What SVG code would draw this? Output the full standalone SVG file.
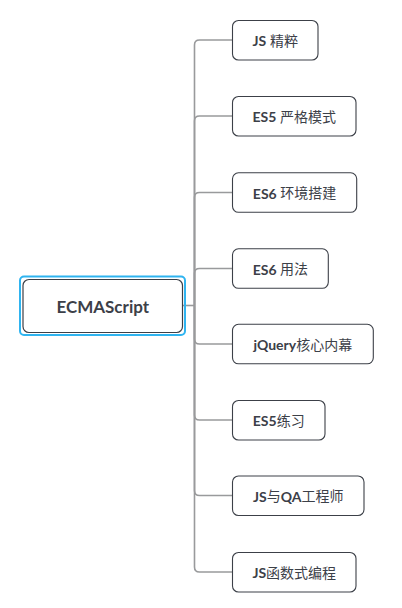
<svg xmlns="http://www.w3.org/2000/svg" width="402" height="608" viewBox="0 0 402 608">
<style>
.conn{fill:none;stroke:#999a9c;stroke-width:1.6}
.box{fill:#ffffff;stroke:#3c4048;stroke-width:1.1}
.t{font-family:"Lato","Noto Sans CJK SC",sans-serif;font-size:14px;fill:#3c4048;text-anchor:middle;dominant-baseline:central}
.b{font-weight:bold}
.root{font-family:"Lato","Noto Sans CJK SC",sans-serif;font-size:17px;font-weight:bold;fill:#3c4048;text-anchor:middle;dominant-baseline:central}
</style>
<rect width="402" height="608" fill="#ffffff"/>
<g id="connectors">
<path class="conn" d="M183,305.5 H194.5"/>
<path class="conn" d="M194.5,305.5 V45 Q194.5,40 199.5,40 H232"/>
<path class="conn" d="M194.5,305.5 V121 Q194.5,116 199.5,116 H232"/>
<path class="conn" d="M194.5,305.5 V197.5 Q194.5,192.5 199.5,192.5 H232"/>
<path class="conn" d="M194.5,305.5 V273.5 Q194.5,268.5 199.5,268.5 H232"/>
<path class="conn" d="M194.5,305.5 V339 Q194.5,344 199.5,344 H232"/>
<path class="conn" d="M194.5,305.5 V415 Q194.5,420 199.5,420 H232"/>
<path class="conn" d="M194.5,305.5 V490.5 Q194.5,495.5 199.5,495.5 H232"/>
<path class="conn" d="M194.5,305.5 V567 Q194.5,572 199.5,572 H232"/>
</g>
<g id="root">
<rect x="20" y="276.5" width="165" height="58.5" rx="4" fill="none" stroke="#2fb4f0" stroke-width="2"/>
<rect x="23" y="279.5" width="159.5" height="53" rx="6" fill="#ffffff" stroke="#3c4048" stroke-width="1.2"/>
<text class="root" x="102.75" y="306">ECMAScript</text>
</g>
<g id="n1">
<rect class="box" x="232.5" y="20.5" width="85.5" height="39.5" rx="6"/>
<text class="t" x="275.25" y="40.25"><tspan class="b">JS</tspan> 精粹</text>
</g>
<g id="n2">
<rect class="box" x="232.5" y="96.5" width="123.5" height="39.5" rx="6"/>
<text class="t" x="294.25" y="116.25"><tspan class="b">ES5</tspan> 严格模式</text>
</g>
<g id="n3">
<rect class="box" x="232.5" y="172.8" width="124.2" height="39.5" rx="6"/>
<text class="t" x="294.6" y="192.5"><tspan class="b">ES6</tspan> 环境搭建</text>
</g>
<g id="n4">
<rect class="box" x="232.5" y="248.8" width="95.8" height="39.5" rx="6"/>
<text class="t" x="280.4" y="268.5"><tspan class="b">ES6</tspan> 用法</text>
</g>
<g id="n5">
<rect class="box" x="232.5" y="324.3" width="140.8" height="39.5" rx="6"/>
<text class="t" x="302.9" y="344"><tspan class="b">jQuery</tspan>核心内幕</text>
</g>
<g id="n6">
<rect class="box" x="232.5" y="400.5" width="92.5" height="39.5" rx="6"/>
<text class="t" x="278.75" y="420.25"><tspan class="b">ES5</tspan>练习</text>
</g>
<g id="n7">
<rect class="box" x="232.5" y="476" width="131.5" height="39.5" rx="6"/>
<text class="t" x="298.25" y="495.75"><tspan class="b">JS</tspan>与<tspan class="b">QA</tspan>工程师</text>
</g>
<g id="n8">
<rect class="box" x="232.5" y="552.5" width="123.5" height="39.5" rx="6"/>
<text class="t" x="294.25" y="572.25"><tspan class="b">JS</tspan>函数式编程</text>
</g>
</svg>
